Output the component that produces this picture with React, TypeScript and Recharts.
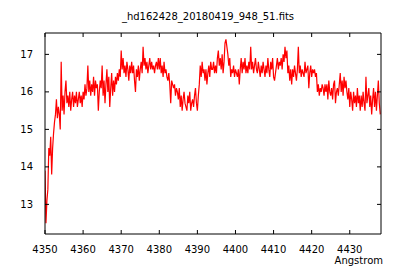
import React from "react";
import { LineChart, Line, XAxis, YAxis } from "recharts";

// spectrum sampled on a regular grid: START + i * STEP (Angstrom)
const START = 4350;
const STEP = 0.25;

const flux = [
  13.9, 12.5, 13.1, 13.4, 14.5, 14.3, 14.8, 13.8, 14.5, 14.9, 15.2, 15.4,
  15.8, 15.3, 15.6, 15.4, 15.0, 16.8, 15.5, 15.9, 15.4, 16.0, 16.3, 15.7,
  15.9, 15.6, 16.0, 15.5, 15.8, 16.0, 15.6, 15.9, 15.7, 16.0, 15.6, 15.8,
  16.0, 15.7, 15.9, 15.6, 16.0, 15.8, 16.2, 15.9, 16.1, 16.7, 16.0, 16.3,
  15.9, 16.2, 16.0, 16.4, 15.9, 16.3, 16.1, 16.2, 15.5, 16.0, 16.3, 16.1,
  16.7, 15.9, 16.3, 15.7, 16.2, 16.6, 16.0, 16.4, 15.6, 16.1, 16.5, 15.9,
  16.3, 16.0, 16.4, 16.2, 16.5, 16.3, 16.6, 16.4, 17.1, 16.6, 16.9, 16.5,
  16.7, 16.4, 16.8, 16.6, 16.3, 16.7, 16.5, 16.8, 16.5, 16.7, 16.3, 16.0,
  16.6, 16.4, 16.7, 16.3, 16.6, 16.8, 16.5, 17.2, 16.7, 16.9, 16.6, 16.8,
  16.5, 16.7, 16.9, 16.6, 16.8, 16.6, 16.7, 16.5, 16.7, 16.8, 16.6, 16.9,
  16.6, 16.9, 16.5, 16.7, 16.4, 16.8, 16.5, 16.6, 16.4, 16.3, 16.5, 16.2,
  15.7, 16.3, 16.2, 16.1, 16.2, 15.9, 16.1, 16.0, 15.8, 16.1, 15.6, 15.9,
  15.5, 15.8, 16.0, 15.7, 15.6, 15.5, 15.9, 15.7, 16.0, 15.5, 15.7, 15.8,
  15.6, 15.9, 16.1, 15.7, 15.5, 15.9, 16.2, 16.7, 16.4, 16.8, 16.5, 16.6,
  16.3, 16.6, 16.2, 16.5, 16.7, 16.4, 16.8, 16.6, 16.6, 16.8, 16.5, 16.7,
  16.5, 16.9, 17.1, 16.7, 16.9, 16.6, 17.0, 16.5, 16.8, 17.3, 17.4, 17.2,
  17.0, 16.7, 16.9, 16.4, 16.6, 16.5, 16.7, 16.4, 16.6, 16.5, 16.4, 16.6,
  16.2, 16.6, 16.9, 16.5, 16.8, 16.6, 16.9, 16.5, 16.7, 16.5, 16.8, 16.6,
  17.2, 16.6, 16.8, 16.5, 16.7, 16.9, 16.6, 16.5, 16.8, 16.6, 16.4, 16.7,
  16.5, 16.8, 16.6, 16.4, 16.7, 16.5, 16.9, 16.6, 16.4, 16.8, 16.6, 16.9,
  16.4, 16.3, 16.5, 16.7, 16.9, 16.6, 16.8, 16.7, 16.9, 16.6, 17.0, 16.8,
  17.2, 16.9, 17.1, 16.5, 16.7, 16.3, 16.6, 16.2, 16.6, 16.4, 16.7, 16.5,
  16.3, 16.6, 17.2, 16.5, 16.7, 16.4, 16.6, 16.5, 16.4, 16.8, 16.5, 16.6,
  16.7, 16.1, 16.5, 16.7, 16.4, 16.6, 16.5, 16.6, 16.4, 16.5, 16.0, 16.2,
  15.9, 16.1, 16.0, 16.2, 16.1, 15.9, 16.2, 16.0, 16.2, 15.8, 16.3, 16.0,
  15.9, 16.1, 15.8, 16.2, 16.3, 15.7, 16.0, 16.1, 15.9, 16.2, 16.5, 16.0,
  16.3, 15.9, 16.4, 16.1, 16.3, 16.0, 15.8, 16.1, 15.6, 16.0, 15.8, 15.5,
  16.0, 15.7, 15.9, 15.6, 16.1, 15.7, 15.9, 15.5, 15.9, 15.6, 16.0, 15.7,
  15.5, 16.4, 15.7, 15.9, 16.1, 15.6, 15.9, 15.4, 15.8, 16.1, 15.6, 16.0,
  15.5, 15.9, 16.3, 15.7, 15.4,
];

const xTicks = [4350, 4360, 4370, 4380, 4390, 4400, 4410, 4420, 4430];
const yTicks = [13, 14, 15, 16, 17];
const xDomain = [4350, 4438.2];
const yDomain = [12.21, 17.57];

const data = flux.map((f, i) => ({ wl: START + i * STEP, f }));

const FONT = "DejaVu Sans";

const BottomTick = (p: any) => (
  <g>
    <line x1={p.x} x2={p.x} y1={p.y} y2={p.y - 4} stroke="#000" />
    <text x={p.x} y={p.y + 15} dy="0.35em" textAnchor="middle" fontFamily={FONT} fontSize={10} fill="#000">
      {p.payload.value}
    </text>
  </g>
);
const TopTick = (p: any) => <line x1={p.x} x2={p.x} y1={p.y} y2={p.y + 4} stroke="#000" />;
const LeftTick = (p: any) => (
  <g>
    <line x1={p.x} x2={p.x + 4} y1={p.y} y2={p.y} stroke="#000" />
    <text x={p.x - 12} y={p.y} dy="0.35em" textAnchor="end" fontFamily={FONT} fontSize={10} fill="#000">
      {p.payload.value}
    </text>
  </g>
);
const RightTick = (p: any) => <line x1={p.x} x2={p.x - 4} y1={p.y} y2={p.y} stroke="#000" />;

export default function App() {
  return (
    <div style={{ position: "absolute", left: 0, top: 0, width: 400, height: 280, background: "#fff" }}>
      <div style={{ position: "absolute", left: 40, width: 336, top: 11, textAlign: "center", fontFamily: FONT, fontSize: 10, lineHeight: "12px" }}>
        _hd162428_20180419_948_51.fits
      </div>
      <div style={{ position: "absolute", right: 17, top: 255, fontFamily: FONT, fontSize: 10, lineHeight: "12px" }}>
        Angstrom
      </div>
      <LineChart width={400} height={280} data={data} margin={{ top: 0, right: 0, bottom: 0, left: 0 }}>
        <XAxis
          dataKey="wl"
          type="number"
          domain={xDomain}
          ticks={xTicks}
          allowDataOverflow
          height={46}
          tickSize={0}
          tickMargin={0}
          tickLine={false}
          axisLine={{ stroke: "#000" }}
          tick={BottomTick}
          interval={0}
        />
        <XAxis
          xAxisId="top"
          orientation="top"
          dataKey="wl"
          type="number"
          domain={xDomain}
          ticks={xTicks}
          allowDataOverflow
          height={33}
          tickSize={0}
          tickMargin={0}
          tickLine={false}
          axisLine={{ stroke: "#000" }}
          tick={TopTick}
          interval={0}
        />
        <YAxis
          type="number"
          domain={yDomain}
          ticks={yTicks}
          allowDataOverflow
          width={45}
          tickSize={0}
          tickMargin={0}
          tickLine={false}
          axisLine={{ stroke: "#000" }}
          tick={LeftTick}
          interval={0}
        />
        <YAxis
          yAxisId="right"
          orientation="right"
          type="number"
          domain={yDomain}
          ticks={yTicks}
          allowDataOverflow
          width={19}
          tickSize={0}
          tickMargin={0}
          tickLine={false}
          axisLine={{ stroke: "#000" }}
          tick={RightTick}
          interval={0}
        />
        <Line
          dataKey="f"
          type="linear"
          stroke="#ff0000"
          strokeWidth={1.2}
          dot={false}
          isAnimationActive={false}
        />
      </LineChart>
    </div>
  );
}
